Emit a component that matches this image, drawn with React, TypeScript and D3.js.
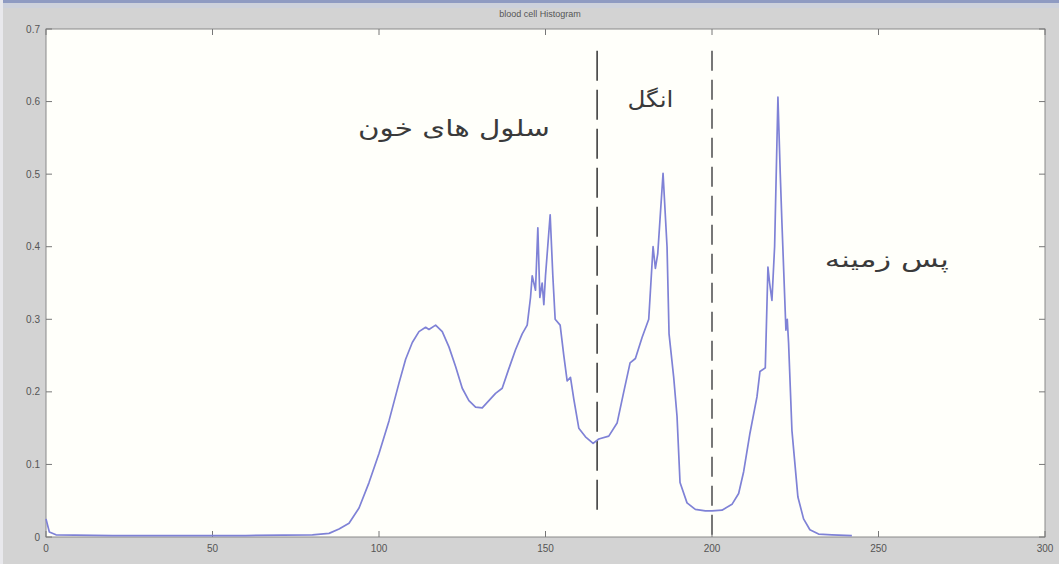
import React from 'react';
import * as d3 from 'd3';

// histogram: grey level -> frequency
const levels = [
  0, 1, 3, 20, 40, 60, 80, 85, 88, 91, 94, 97, 100, 103, 106, 108, 110, 112, 114, 115, 117, 119,
  121, 123, 125, 127, 129, 131, 133, 135, 137, 139, 141, 143, 144.5, 145.5, 146, 147, 147.7, 148.3,
  149, 149.5, 150, 151.4, 152.2, 152.9, 154.4, 155.5, 156.5, 157.5, 158.5, 160, 162, 164.3, 166,
  169, 171.5, 173.5, 175.4, 177, 179, 181, 182.3, 183, 183.7, 185.3, 186.5, 187.1, 188.5, 189.5,
  190.4, 192.5, 195, 198, 200, 203, 206, 208, 209.5, 211.4, 213.5, 214.4, 216, 216.8, 217.3, 218,
  218.8, 219.8, 220.5, 221, 222.2, 222.6, 223, 224, 225.8, 227.5, 229.4, 232, 236, 242,
];
const counts = [
  0.025, 0.007, 0.003, 0.002, 0.002, 0.002, 0.003, 0.005, 0.011, 0.019, 0.04, 0.075, 0.115, 0.16,
  0.212, 0.245, 0.268, 0.283, 0.289, 0.286, 0.292, 0.283, 0.262, 0.235, 0.205, 0.188, 0.179, 0.178,
  0.188, 0.198, 0.205, 0.232, 0.258, 0.28, 0.292, 0.33, 0.36, 0.34, 0.426, 0.33, 0.35, 0.32, 0.36,
  0.444, 0.36, 0.3, 0.292, 0.25, 0.215, 0.22, 0.19, 0.15, 0.138, 0.129, 0.135, 0.139, 0.157, 0.2,
  0.24, 0.246, 0.275, 0.3, 0.4, 0.37, 0.39, 0.501, 0.4, 0.28, 0.22, 0.166, 0.075, 0.047, 0.038,
  0.036, 0.036, 0.037, 0.045, 0.06, 0.09, 0.143, 0.193, 0.228, 0.233, 0.372, 0.35, 0.326, 0.4,
  0.606, 0.5, 0.433, 0.285, 0.3, 0.267, 0.147, 0.055, 0.025, 0.01, 0.004, 0.003, 0.002,
];

const xTicks = [0, 50, 100, 150, 200, 250, 300];
const yTicks = [0, 0.1, 0.2, 0.3, 0.4, 0.5, 0.6, 0.7];

// thresholds between the classes
const cuts = [
  { x: 165.5, y0: 0.03, y1: 0.67, dash: '30,9', color: '#333', width: 1.5 },
  { x: 200, y0: 0, y1: 0.67, dash: '20,9', color: '#777', width: 2 },
];

const labels = [
  { text: 'سلول های خون', x: 122.5, y: 0.553, size: 23, len: 192 },
  { text: 'انگل', x: 181.5, y: 0.592, size: 22, len: 46 },
  { text: 'پس زمینه', x: 252.5, y: 0.372, size: 22, len: 124 },
];

const title = 'blood cell Histogram';

const W = 1059;
const H = 564;

export default function App() {
  const x = d3.scaleLinear().domain([0, 300]).range([46, 1045]);
  const y = d3.scaleLinear().domain([0, 0.7]).range([537, 29]);

  const line = d3
    .line<number>()
    .x((d, i) => x(levels[i]))
    .y(d => y(d));

  const [left, right] = x.range();
  const [bottom, top] = y.range();
  const tickFont = 'Liberation Sans, Arial, sans-serif';

  return (
    <div style={{ position: 'fixed', left: 0, top: 0 }}>
      <svg width={W} height={H} style={{ display: 'block' }}>
        <rect x={0} y={0} width={W} height={H} fill="#d3d3d3" />
        <rect x={0} y={0} width={W} height={3} fill="#8f9bc2" />
        <rect x={0} y={3} width={W} height={5} fill="#cdd1dc" />
        <rect x={0} y={0} width={3} height={H} fill="#e8e8ec" />
        <text x={540} y={17} textAnchor="middle" fontSize={9} fill="#555" fontFamily={tickFont}>
          {title}
        </text>

        <rect x={left} y={top} width={right - left} height={bottom - top} fill="#fffffa" stroke="#8a8a8a" strokeWidth={1} />

        {xTicks.map(t => (
          <g key={'x' + t}>
            <line x1={x(t)} x2={x(t)} y1={bottom} y2={bottom - 6} stroke="#777" />
            <line x1={x(t)} x2={x(t)} y1={top} y2={top + 6} stroke="#777" />
            <text x={x(t)} y={bottom + 15} textAnchor="middle" fontSize={10} fill="#555" fontFamily={tickFont}>
              {t}
            </text>
          </g>
        ))}
        {yTicks.map(t => (
          <g key={'y' + t}>
            <line x1={left} x2={left + 6} y1={y(t)} y2={y(t)} stroke="#777" />
            <line x1={right} x2={right - 6} y1={y(t)} y2={y(t)} stroke="#777" />
            <text x={left - 6} y={y(t) + 3.5} textAnchor="end" fontSize={10} fill="#555" fontFamily={tickFont}>
              {t}
            </text>
          </g>
        ))}

        {cuts.map(c => (
          <line
            key={c.x}
            x1={x(c.x)}
            x2={x(c.x)}
            y1={y(c.y1)}
            y2={y(c.y0)}
            stroke={c.color}
            strokeWidth={c.width}
            strokeDasharray={c.dash}
          />
        ))}

        <path d={line(counts) || ''} fill="none" stroke="#7f82d6" strokeWidth={1.7} strokeLinejoin="round" />

        {labels.map(l => (
          <text
            key={l.text}
            x={x(l.x) + l.len / 2}
            y={y(l.y)}
            direction="rtl"
            fontSize={l.size}
            fill="#3a3a3a"
            fontFamily="DejaVu Sans, sans-serif"
            textLength={l.len}
            lengthAdjust="spacingAndGlyphs"
          >
            {l.text}
          </text>
        ))}
      </svg>
    </div>
  );
}
